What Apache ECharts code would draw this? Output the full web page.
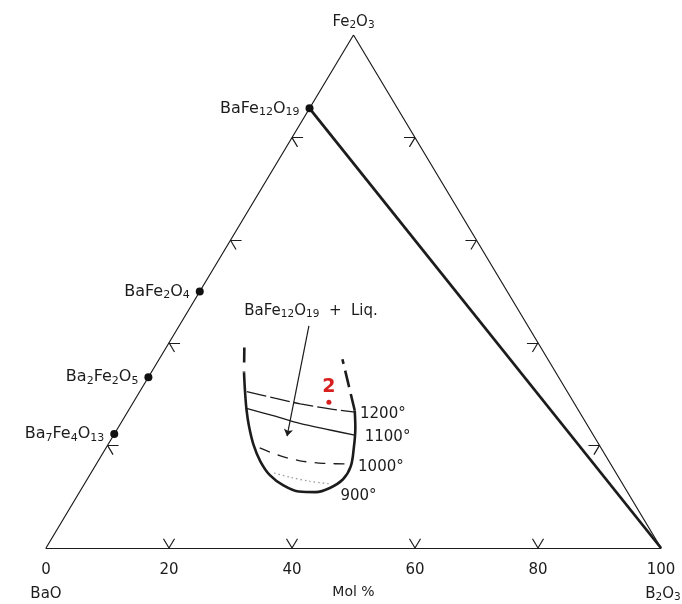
<!DOCTYPE html>
<html>
<head>
<meta charset="utf-8">
<script src="https://cdn.jsdelivr.net/npm/echarts@6/dist/echarts.min.js"></script>
<style>
html,body{margin:0;padding:0;background:#fff;}
#chart{width:682px;height:604px;}
</style>
</head>
<body>
<div id="chart"></div>
<script>
// ---- data (compositions as [B2O3 mol%, Fe2O3 mol%]; BaO = remainder) ----
const bottomTickValues = [0, 20, 40, 60, 80, 100];
const bottomTickLabels = ['0', '20', '40', '60', '80', '100'];
const edgeTickValues = [20, 40, 60, 80];

const compoundNames = ['BaFe12O19', 'BaFe2O4', 'Ba2Fe2O5', 'Ba7Fe4O13'];
const compoundLabels = ['{n|BaFe}{s|12}{n|O}{s|19}', '{n|BaFe}{s|2}{n|O}{s|4}', '{n|Ba}{s|2}{n|Fe}{s|2}{n|O}{s|5}', '{n|Ba}{s|7}{n|Fe}{s|4}{n|O}{s|13}'];
const compoundB2O3 = [0, 0, 0, 0];
const compoundFe2O3 = [85.7, 50, 33.3, 22.2];

const tieLine = [[0, 85.7], [100, 0]];

const liquidusSolid = [[15.1,34.2],[17.0,30.7],[19.1,27.0],[21.1,23.8],[23.7,20.1],[26.4,16.9],[29.3,14.2],[32.5,12.2],[35.6,11.0],[38.4,10.9],[40.3,11.7],[41.6,13.4],[41.6,15.9],[40.3,19.5],[38.6,23.4],[36.8,26.8]];
const liquidusLeftDash = [[12.7,39.1],[15.1,34.2]];
const liquidusRightDash = [[36.8,26.8],[29.8,36.8]];

const isoNames = ['1200°', '1100°', '1000°', '900°'];
const iso1200 = [[17.4,30.5],[22.6,29.2],[27.3,28.1],[32.6,27.1],[37.0,26.5]];
const iso1100 = [[19.0,27.2],[24.4,25.7],[29.1,24.3],[34.7,23.0],[39.2,22.0]];
const iso1000 = [[25.0,19.5],[29.0,18.0],[32.8,17.0],[36.8,16.5],[41.4,16.4]];
const iso900  = [[29.8,14.6],[32.8,13.8],[36.4,13.0],[40.0,12.5]];

const arrowFrom = [21.1, 43.3];
const arrowTo = [28.3, 21.8];
const fieldLabelAt = [20.0, 46.2];

const samplePoint = [31.8, 28.4];
const sampleName = '2';

// ---- ternary -> cartesian (x: 0..100 along BaO->B2O3, y: Fe2O3 height 0..100) ----
function tern(c) { return [c[0] + c[1] / 2, c[1]]; }
function tp(list) { return list.map(tern); }

const INK = '#1c1c1c';
const RED = '#d82020';
const FONT = 'DejaVu Sans';

// ternary tick marks
const tickT = 1.8;
const tickSegs = [];
edgeTickValues.forEach(v => {
  tickSegs.push({coords: [tern([v, 0]), tern([v, tickT])]});
  tickSegs.push({coords: [tern([v, 0]), tern([v - tickT, tickT])]});
  tickSegs.push({coords: [tern([0, v]), tern([tickT, v])]});
  tickSegs.push({coords: [tern([0, v]), tern([tickT, v - tickT])]});
  tickSegs.push({coords: [tern([100 - v, v]), tern([100 - v - tickT, v])]});
  tickSegs.push({coords: [tern([100 - v, v]), tern([100 - v, v - tickT])]});
});

const rich = {
  n: {fontSize: 15, lineHeight: 18, fontFamily: FONT, color: INK},
  s: {fontSize: 10.5, lineHeight: 8, verticalAlign: 'bottom', fontFamily: FONT, color: INK}
};
const richBig = {
  n: {fontSize: 16, lineHeight: 19, fontFamily: FONT, color: INK},
  s: {fontSize: 11, lineHeight: 8, verticalAlign: 'bottom', fontFamily: FONT, color: INK}
};

function isoSeries(name, data, dash, color, width, offset) {
  return {
    type: 'line', name: name, data: tp(data), smooth: 0.3, showSymbol: false, silent: true,
    lineStyle: {color: color, width: width, type: dash},
    endLabel: {show: true, formatter: name, color: INK, fontSize: 15, fontFamily: FONT, offset: offset},
    z: 3
  };
}

const option = {
  animation: false,
  backgroundColor: '#fff',
  grid: {left: 46, right: 21, top: 35, bottom: 47, containLabel: false},
  xAxis: {
    type: 'value', min: 0, max: 100, interval: 20,
    axisLine: {show: true, onZero: false, lineStyle: {color: INK, width: 1.2}},
    axisTick: {show: false},
    splitLine: {show: false},
    axisLabel: {
      color: INK, fontSize: 15, fontFamily: FONT, margin: 15,
      formatter: v => bottomTickLabels[bottomTickValues.indexOf(v)]
    },
    name: 'Mol %', nameLocation: 'middle', nameGap: 37,
    nameTextStyle: {color: INK, fontSize: 14, fontFamily: FONT}
  },
  yAxis: {type: 'value', min: 0, max: 100, show: false},
  series: [
    {type: 'line', data: tp([[0, 0], [0, 100], [100, 0]]), showSymbol: false, silent: true,
      lineStyle: {color: INK, width: 1.2}, z: 2},
    {type: 'line', data: tp(tieLine), showSymbol: false, silent: true,
      lineStyle: {color: INK, width: 2.8}, z: 2},
    {type: 'lines', coordinateSystem: 'cartesian2d', data: tickSegs, silent: true,
      lineStyle: {color: INK, width: 1.2, opacity: 1}, z: 2},
    {type: 'line', data: tp(liquidusSolid), smooth: 0.35, showSymbol: false, silent: true,
      lineStyle: {color: INK, width: 2.6}, z: 4},
    {type: 'line', data: tp(liquidusLeftDash), showSymbol: false, silent: true,
      lineStyle: {color: INK, width: 2.6, type: [15, 9]}, z: 4},
    {type: 'line', data: tp(liquidusRightDash), showSymbol: false, silent: true,
      lineStyle: {color: INK, width: 2.6, type: [17, 7]}, z: 4},
    isoSeries(isoNames[0], iso1200, [20, 4], INK, 1.3, [-3, 2]),
    isoSeries(isoNames[1], iso1100, 'solid', INK, 1.3, [2, 2]),
    isoSeries(isoNames[2], iso1000, [11, 8], INK, 1.3, [-1, 3]),
    isoSeries(isoNames[3], iso900, [1.5, 3], '#9a9a9a', 1.3, [2, 12]),
    {type: 'lines', coordinateSystem: 'cartesian2d', silent: true,
      data: [{coords: [tern(arrowFrom), tern(arrowTo)]}],
      symbol: ['none', 'arrow'], symbolSize: [1, 7],
      lineStyle: {color: INK, width: 1.2, opacity: 1}, z: 4},
    {type: 'scatter', symbol: 'circle', symbolSize: 8, silent: true,
      itemStyle: {color: '#111', opacity: 1},
      data: compoundNames.map((nm, i) => ({name: nm, value: tern([compoundB2O3[i], compoundFe2O3[i]]),
        label: {show: true, position: 'left', distance: 6, color: INK, formatter: compoundLabels[i], rich: richBig}})),
      z: 5},
    {type: 'scatter', symbol: 'circle', symbolSize: 5, silent: true,
      itemStyle: {color: RED, opacity: 1},
      data: [{name: sampleName, value: tern(samplePoint)}],
      label: {show: true, position: 'top', distance: 3, formatter: sampleName, color: RED,
        fontSize: 19, fontWeight: 'bold', fontFamily: FONT}, z: 6},
    {type: 'scatter', symbolSize: 0, silent: true, z: 6,
      itemStyle: {opacity: 1},
      data: [
        {value: tern([0, 100]), label: {show: true, position: 'top', distance: 4, color: INK,
          formatter: '{n|Fe}{s|2}{n|O}{s|3}', rich: rich}},
        {value: tern([0, 0]), label: {show: true, position: 'bottom', distance: 37, color: INK,
          formatter: '{n|BaO}', rich: rich}},
        {value: tern([100, 0]), label: {show: true, position: 'bottom', distance: 37, color: INK,
          formatter: '{n|B}{s|2}{n|O}{s|3}', rich: rich, offset: [2, 0]}},
        {value: tern(fieldLabelAt), label: {show: true, position: 'inside', color: INK,
          textBorderWidth: 0, formatter: '{n|BaFe}{s|12}{n|O}{s|19}{n|  +  Liq.}', rich: rich}}
      ]}
  ]
};

const chart = echarts.init(document.getElementById('chart'), null, {renderer: 'canvas'});
chart.setOption(option);
</script>
</body>
</html>
